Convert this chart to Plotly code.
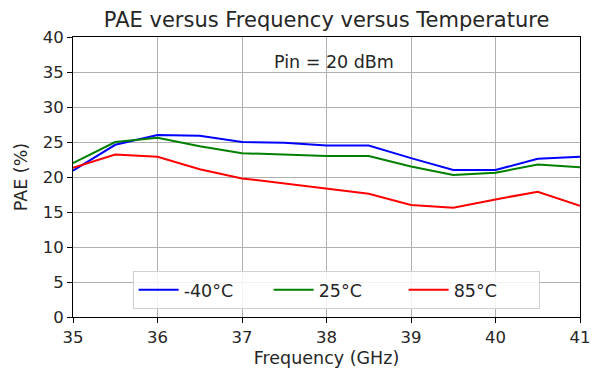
import plotly.graph_objects as go

# Frequency sweep (GHz) and PAE (%) per temperature
freq_ghz = [35.0, 35.5, 36.0, 36.5, 37.0, 37.5, 38.0, 38.5, 39.0, 39.5, 40.0, 40.5, 41.0]
pae_m40c = [20.9, 24.6, 26.0, 25.9, 25.0, 24.9, 24.5, 24.5, 22.7, 21.0, 21.0, 22.6, 22.9]
pae_25c = [22.0, 25.0, 25.6, 24.4, 23.4, 23.2, 23.0, 23.0, 21.5, 20.3, 20.6, 21.8, 21.4]
pae_85c = [21.3, 23.2, 22.9, 21.1, 19.8, 19.1, 18.3, 17.6, 16.0, 15.6, 16.8, 17.9, 15.9]

series_names = ["-40°C", "25°C", "85°C"]
series_colors = ["#0000ff", "#008000", "#ff0000"]
x_ticks = [35, 36, 37, 38, 39, 40, 41]
y_ticks = [0, 5, 10, 15, 20, 25, 30, 35, 40]

font_family = "DejaVu Sans, sans-serif"
text_color = "#262626"

fig = go.Figure()
for name, vals, color in zip(series_names, [pae_m40c, pae_25c, pae_85c], series_colors):
    fig.add_trace(go.Scatter(
        x=freq_ghz, y=vals, mode="lines", name=name,
        line=dict(color=color, width=2),
    ))

axis_common = dict(
    showline=True, linecolor="black", linewidth=1, mirror=True,
    showgrid=True, gridcolor="#b0b0b0", gridwidth=1,
    ticks="outside", ticklen=5, tickwidth=1, tickcolor="black",
    tickfont=dict(size=16.5, color=text_color), zeroline=False,
    automargin=False,
)

fig.update_layout(
    width=596, height=378,
    margin=dict(l=73, r=16, t=37, b=61),
    paper_bgcolor="white", plot_bgcolor="white",
    font=dict(family=font_family, color=text_color),
    title=dict(text="PAE versus Frequency versus Temperature",
               x=0.548, xanchor="center", y=0.949, yanchor="middle",
               font=dict(size=21, color=text_color)),
    xaxis=dict(range=[35, 41], tickvals=x_ticks,
               title=dict(text="Frequency (GHz)", font=dict(size=17.5), standoff=5),
               **axis_common),
    yaxis=dict(range=[0, 40], tickvals=y_ticks,
               title=dict(text="PAE (%)", font=dict(size=17.5), standoff=10),
               **axis_common),
    legend=dict(orientation="h", x=0.519, xanchor="center", y=0.029, yanchor="bottom",
                bgcolor="rgba(255,255,255,0.85)", bordercolor="#d0d0d0", borderwidth=1,
                font=dict(size=17.5, color=text_color), itemwidth=40,
                entrywidth=80, entrywidthmode="pixels"),
    showlegend=True,
)

fig.add_annotation(text="Pin = 20 dBm", xref="paper", yref="paper",
                   x=0.515, y=0.9125, xanchor="center", yanchor="middle",
                   showarrow=False, font=dict(size=17.5, color=text_color))

fig.write_html("out.html")
